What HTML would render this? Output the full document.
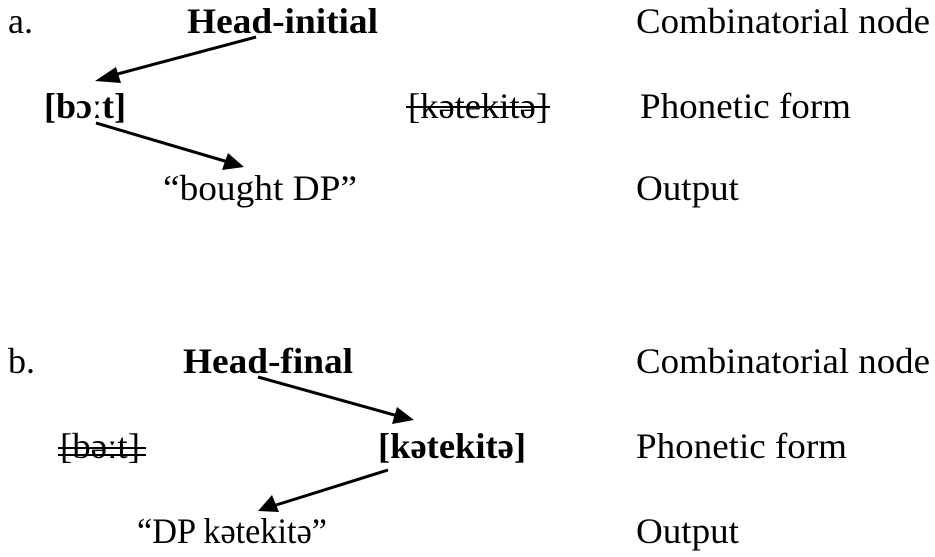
<!DOCTYPE html>
<html><head><meta charset="utf-8"><style>
html,body{margin:0;padding:0;background:#fff;}
svg{display:block;}
text{font-family:"Liberation Serif","DejaVu Serif",serif;font-size:36px;fill:#000;}
.b{font-weight:bold;}
</style></head><body>
<svg width="935" height="557" viewBox="0 0 935 557">
<g>
<text x="8" y="33">a.</text>
<text x="187" y="33" class="b" textLength="191" lengthAdjust="spacingAndGlyphs">Head-initial</text>
<text x="636" y="33" textLength="294" lengthAdjust="spacingAndGlyphs">Combinatorial node</text>
<text x="44" y="118" class="b" textLength="82" lengthAdjust="spacingAndGlyphs">[bɔːt]</text>
<text x="408" y="118" textLength="140" lengthAdjust="spacingAndGlyphs">[kətekitə]</text>
<line x1="406" y1="107" x2="550" y2="107" stroke="#000" stroke-width="2"/>
<text x="640" y="118" textLength="211" lengthAdjust="spacingAndGlyphs">Phonetic form</text>
<text x="163" y="200" textLength="194" lengthAdjust="spacingAndGlyphs">“bought DP”</text>
<text x="636" y="200" textLength="103" lengthAdjust="spacingAndGlyphs">Output</text>

<text x="8" y="373">b.</text>
<text x="183" y="373" class="b" textLength="170" lengthAdjust="spacingAndGlyphs">Head-final</text>
<text x="636" y="373" textLength="294" lengthAdjust="spacingAndGlyphs">Combinatorial node</text>
<text x="60" y="458" textLength="80" lengthAdjust="spacingAndGlyphs">[bəːt]</text>
<line x1="58" y1="448" x2="146" y2="448" stroke="#000" stroke-width="2"/>
<line x1="58" y1="455" x2="146" y2="455" stroke="#000" stroke-width="2"/>
<text x="378" y="458" class="b" textLength="148" lengthAdjust="spacingAndGlyphs">[kətekitə]</text>
<text x="636" y="458" textLength="211" lengthAdjust="spacingAndGlyphs">Phonetic form</text>
<text x="137" y="543" textLength="190" lengthAdjust="spacingAndGlyphs">“DP kətekitə”</text>
<text x="636" y="543" textLength="103" lengthAdjust="spacingAndGlyphs">Output</text>
</g>
<g stroke="#000" stroke-width="3" fill="none">
<line x1="256" y1="37" x2="110" y2="76"/>
<line x1="96" y1="123" x2="228" y2="162"/>
<line x1="258" y1="377" x2="398" y2="416"/>
<line x1="388" y1="470" x2="273" y2="506"/>
</g>
<g fill="#000">
<polygon points="95,81 116,67 121,83"/>
<polygon points="244,167 222,170 228,153"/>
<polygon points="414,420 392,424 397,407"/>
<polygon points="258,511 272,495 279,512"/>
</g>
</svg>
</body></html>
